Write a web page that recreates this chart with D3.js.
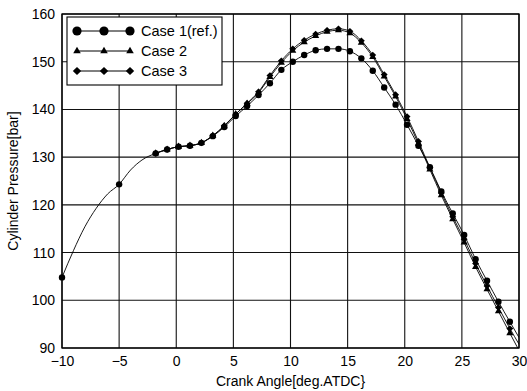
<!DOCTYPE html>
<html>
<head>
<meta charset="utf-8">
<script src="https://cdn.jsdelivr.net/npm/d3@7"></script>
<style>
  html, body { margin: 0; padding: 0; background: #fff; }
  svg { display: block; font-family: "Liberation Sans", Arial, sans-serif; }
</style>
</head>
<body>
<svg id="chart" width="527" height="391"></svg>
<script>
// ---------------- data ----------------
const xTicks = [-10, -5, 0, 5, 10, 15, 20, 25, 30];
const yTicks = [90, 100, 110, 120, 130, 140, 150, 160];

// early part of the reference curve (Case 1), markers only at -10 and -5
const case1PreAngles = [-10, -9, -8, -7, -6, -5, -4, -3];
const case1PreValues = [104.8, 110.4, 115.4, 119.3, 122.3, 124.3, 127.3, 129.4];
const case1PreMarkerAngles = [-10, -5];

// sampled points (markers) for all cases
const angles = [-1.8, -0.8, 0.2, 1.2, 2.2, 3.2, 4.2, 5.2, 6.2, 7.2, 8.2, 9.2, 10.2, 11.2, 12.2, 13.2,
                14.2, 15.2, 16.2, 17.2, 18.2, 19.2, 20.2, 21.2, 22.2, 23.2, 24.2, 25.2, 26.2, 27.2, 28.2, 29.2];
const case1 = [130.8, 131.6, 132.2, 132.4, 133.0, 134.4, 136.3, 138.6, 140.7, 143.0, 145.5, 148.3, 150.0, 151.4, 152.4, 152.7,
               152.7, 152.2, 150.7, 148.1, 144.6, 141.0, 136.8, 132.4, 127.9, 122.8, 118.2, 113.7, 108.6, 104.1, 99.7, 95.5];
const case2 = [130.8, 131.6, 132.2, 132.4, 133.0, 134.5, 136.5, 139.0, 141.2, 143.5, 146.8, 149.8, 152.3, 154.1, 155.4, 156.3,
               156.6, 156.0, 154.0, 151.0, 146.9, 142.7, 138.0, 132.8, 127.4, 122.0, 117.0, 112.1, 107.0, 102.3, 97.7, 93.1];
const case3 = [130.8, 131.6, 132.2, 132.4, 133.0, 134.5, 136.6, 139.0, 141.3, 143.7, 147.1, 150.2, 152.7, 154.5, 155.8, 156.6,
               156.9, 156.4, 154.4, 151.4, 147.3, 143.1, 138.5, 133.3, 127.8, 122.5, 117.5, 112.8, 107.7, 103.0, 98.5, 94.1];
// line end at the right frame (no marker)
const endAngle = 30;
const endValues = [92.2, 89.5, 90.8];

const seriesNames = ["Case 1(ref.)", "Case 2", "Case 3"];
const seriesSymbols = ["circle", "triangle", "diamond"];

const xLabel = "Crank Angle[deg.ATDC}";
const yLabel = "Cylinder Pressure[bar]";

// ---------------- layout ----------------
const svg = d3.select("#chart");
const L = 62, R = 519, T = 14, B = 348;
const x = d3.scaleLinear().domain([-10, 30]).range([L, R]);
const y = d3.scaleLinear().domain([90, 160]).range([B, T]);

svg.append("defs").append("clipPath").attr("id", "plotclip")
  .append("rect").attr("x", L).attr("y", T).attr("width", R - L).attr("height", B - T);

// grid
const grid = svg.append("g");
grid.selectAll("line.vx").data(xTicks).join("line")
  .attr("x1", d => x(d)).attr("x2", d => x(d)).attr("y1", T).attr("y2", B)
  .attr("stroke", "#111").attr("stroke-width", 1.1);
grid.selectAll("line.hy").data(yTicks).join("line")
  .attr("y1", d => y(d)).attr("y2", d => y(d)).attr("x1", L).attr("x2", R)
  .attr("stroke", "#111").attr("stroke-width", 1.1);

// axes (labels only)
const xAxis = d3.axisBottom(x).tickValues(xTicks).tickSize(0).tickPadding(8).tickFormat(d3.format("d"));
const gx = svg.append("g").attr("transform", `translate(0,${B})`).call(xAxis);
gx.select(".domain").remove();
gx.selectAll("text").attr("font-size", 14).attr("fill", "#000")
  .attr("font-family", "'Liberation Sans', Arial, sans-serif");

const yAxis = d3.axisLeft(y).tickValues(yTicks).tickSize(0).tickPadding(7).tickFormat(d3.format("d"));
const gy = svg.append("g").attr("transform", `translate(${L},0)`).call(yAxis);
gy.select(".domain").remove();
gy.selectAll("text").attr("font-size", 14).attr("fill", "#000")
  .attr("font-family", "'Liberation Sans', Arial, sans-serif");

// frame
svg.append("rect").attr("x", L).attr("y", T).attr("width", R - L).attr("height", B - T)
  .attr("fill", "none").attr("stroke", "#000").attr("stroke-width", 1.3);

// titles
svg.append("text").attr("x", (L + R) / 2).attr("y", 386).attr("text-anchor", "middle")
  .attr("font-size", 14).text(xLabel);
svg.append("text").attr("transform", `translate(18,${(T + B) / 2}) rotate(-90)`)
  .attr("text-anchor", "middle").attr("font-size", 14).text(yLabel);

// symbols
function symPath(name, s) {
  if (name === "circle") return d3.symbol().type(d3.symbolCircle).size(Math.PI * s * s)();
  if (name === "triangle") return d3.symbol().type(d3.symbolTriangle).size(s * s * 1.9)();
  // wide diamond (rotated square)
  return `M0,${-s}L${s * 1.05},0L0,${s}L${-s * 1.05},0Z`;
}
const plotSize = { circle: 3.2, triangle: 3.4, diamond: 3.3 };
const legSize = { circle: 4.6, triangle: 3.6, diamond: 4.0 };

const line = d3.line().x(d => x(d[0])).y(d => y(d[1])).curve(d3.curveMonotoneX);
const plot = svg.append("g").attr("clip-path", "url(#plotclip)");

const allCases = [case1, case2, case3];
allCases.forEach((vals, i) => {
  let pts = angles.map((a, j) => [a, vals[j]]);
  if (i === 0) pts = case1PreAngles.map((a, j) => [a, case1PreValues[j]]).concat(pts);
  pts.push([endAngle, endValues[i]]);
  plot.append("path").attr("d", line(pts)).attr("fill", "none")
    .attr("stroke", "#000").attr("stroke-width", 0.9);
});

// markers
[1, 2, 0].forEach(i => {
  const vals = allCases[i];
  let pts = angles.map((a, j) => [a, vals[j]]);
  if (i === 0) pts = case1PreMarkerAngles.map(a => [a, case1PreValues[case1PreAngles.indexOf(a)]]).concat(pts);
  svg.append("g").selectAll("path").data(pts).join("path")
    .attr("transform", d => `translate(${x(d[0])},${y(d[1])})`)
    .attr("d", symPath(seriesSymbols[i], plotSize[seriesSymbols[i]])).attr("fill", "#000");
});

// legend
const lg = svg.append("g");
lg.append("rect").attr("x", 67).attr("y", 17).attr("width", 155).attr("height", 68)
  .attr("fill", "#fff").attr("stroke", "#000").attr("stroke-width", 1.1);
seriesNames.forEach((name, i) => {
  const yy = 31 + i * 20;
  lg.append("line").attr("x1", 77).attr("x2", 130).attr("y1", yy).attr("y2", yy)
    .attr("stroke", "#000").attr("stroke-width", 1);
  [77, 104, 130].forEach(xx => {
    lg.append("path").attr("transform", `translate(${xx},${yy})`)
      .attr("d", symPath(seriesSymbols[i], legSize[seriesSymbols[i]])).attr("fill", "#000");
  });
  lg.append("text").attr("x", 141).attr("y", yy + 5).attr("font-size", 14.5).text(name);
});
</script>
</body>
</html>
